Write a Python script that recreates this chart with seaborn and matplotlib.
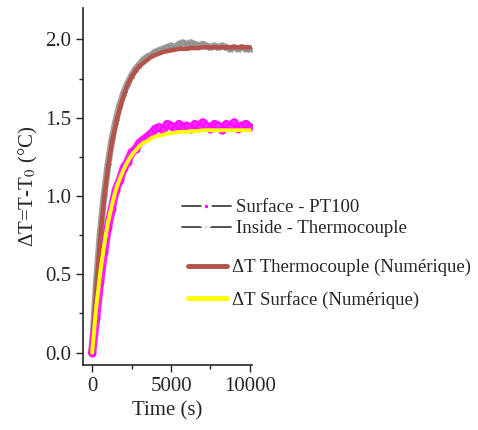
import matplotlib
matplotlib.use("Agg")
import matplotlib.pyplot as plt
from matplotlib.lines import Line2D
import pandas as pd
import seaborn as sns

# time axis (s)
time_s = [0, 250, 500, 750, 1000, 1250, 1500, 1750, 2000, 2250, 2500, 2750, 3000,
          3250, 3500, 3750, 4000, 4250, 4500, 4750, 5000, 5250, 5500, 5750, 6000,
          6250, 6500, 6750, 7000, 7250, 7500, 7750, 8000, 8250, 8500, 8750, 9000,
          9250, 9500, 9750, 10000]

# measured : inside thermocouple
inside_meas = [0.00, 0.42, 0.75, 1.00, 1.20, 1.36, 1.48, 1.58, 1.66, 1.72, 1.77, 1.81, 1.84,
               1.87, 1.89, 1.90, 1.92, 1.93, 1.94, 1.95, 1.96, 1.95, 1.97, 1.98, 1.97,
               1.98, 1.97, 1.96, 1.97, 1.96, 1.95, 1.96, 1.95, 1.96, 1.95, 1.94, 1.95,
               1.94, 1.95, 1.94, 1.94]

# measured : surface PT100
surface_meas = [0.00, 0.22, 0.45, 0.64, 0.80, 0.92, 1.04, 1.10, 1.18, 1.22, 1.28, 1.30, 1.34,
                1.36, 1.38, 1.40, 1.43, 1.44, 1.42, 1.46, 1.45, 1.43, 1.46, 1.44, 1.45,
                1.43, 1.46, 1.44, 1.47, 1.45, 1.43, 1.46, 1.45, 1.42, 1.46, 1.44, 1.47,
                1.43, 1.45, 1.46, 1.44]

# numerical : thermocouple
thermo_num = [0.00, 0.40, 0.72, 0.98, 1.18, 1.34, 1.46, 1.56, 1.64, 1.71, 1.76, 1.80, 1.83,
              1.85, 1.87, 1.89, 1.90, 1.91, 1.92, 1.925, 1.93, 1.935, 1.94, 1.94, 1.94,
              1.945, 1.945, 1.945, 1.95, 1.95, 1.95, 1.95, 1.95, 1.95, 1.95, 1.95, 1.95,
              1.95, 1.95, 1.95, 1.95]

# numerical : surface
surface_num = [0.00, 0.28, 0.50, 0.68, 0.83, 0.94, 1.04, 1.11, 1.17, 1.22, 1.26, 1.29, 1.32,
               1.34, 1.35, 1.37, 1.38, 1.385, 1.39, 1.40, 1.40, 1.405, 1.41, 1.41, 1.41,
               1.415, 1.415, 1.415, 1.42, 1.42, 1.42, 1.42, 1.42, 1.42, 1.42, 1.42, 1.42,
               1.42, 1.42, 1.42, 1.42]

df = pd.DataFrame({"t": time_s, "inside": inside_meas, "surface": surface_meas,
                   "thermo_num": thermo_num, "surface_num": surface_num})

sns.set_style("ticks")
plt.rcParams["font.family"] = ["Liberation Serif", "DejaVu Serif"]
plt.rcParams["mathtext.fontset"] = "stix"

fig = plt.figure(figsize=(4.78, 4.3), dpi=100)
ax = fig.add_axes([0.174, 0.151, 0.353, 0.830])

sns.lineplot(data=df, x="t", y="inside", ax=ax, color="#a0a0a0", lw=5,
             marker="*", markersize=5, markeredgecolor="#909090")
sns.lineplot(data=df, x="t", y="surface", ax=ax, color="#ff22ff", lw=6,
             marker="o", markersize=5, markeredgecolor="#ff00ff")
sns.lineplot(data=df, x="t", y="thermo_num", ax=ax, color="#b5524a", lw=3.2)
sns.lineplot(data=df, x="t", y="surface_num", ax=ax, color="#ffff00", lw=2.8)

ax.set_xlim(-570, 10130)
ax.set_ylim(-0.08, 2.2)
ax.set_xticks([0, 5000, 10000])
ax.set_xticks([2500, 7500], minor=True)
ax.set_yticks([0.0, 0.5, 1.0, 1.5, 2.0])
ax.set_yticks([0.25, 0.75, 1.25, 1.75], minor=True)
ax.tick_params(axis="both", which="major", labelsize=15, length=5, width=1, direction="out")
ax.tick_params(axis="both", which="minor", length=3, width=1, direction="out")
ax.yaxis.set_major_formatter(matplotlib.ticker.FormatStrFormatter("%.1f"))
ax.set_xlabel("Time (s)", fontsize=15, labelpad=4)
ax.set_ylabel(r"ΔT=T-T$_0$ (°C)", fontsize=15, labelpad=4)
for s in ["top", "right"]:
    ax.spines[s].set_visible(False)
for s in ["left", "bottom"]:
    ax.spines[s].set_linewidth(1.2)

# legend, two blocks
h1 = [Line2D([], [], color="#333333", lw=1.2, marker="o", ms=5, mfc="#ff00ff",
             mec="white", mew=2.5),
      Line2D([], [], color="#333333", lw=1.2, marker="*", ms=7, mfc="#dddddd",
             mec="white", mew=1.5)]
leg1 = fig.legend(h1, ["Surface - PT100", "Inside - Thermocouple"], loc="upper left",
                  bbox_to_anchor=(0.381, 0.537), frameon=False, fontsize=13.5,
                  handlelength=2.6, handletextpad=0.25, labelspacing=0.2,
                  borderpad=0, borderaxespad=0)
h2 = [Line2D([], [], color="#b5524a", lw=3.5),
      Line2D([], [], color="#ffff00", lw=3.5)]
leg2 = fig.legend(h2, ["ΔT Thermocouple (Numérique)", "ΔT Surface (Numérique)"],
                  loc="upper left", bbox_to_anchor=(0.393, 0.398), frameon=False,
                  fontsize=13.5, handlelength=2.1, handletextpad=0.25,
                  labelspacing=0.8, borderpad=0, borderaxespad=0)

fig.savefig("out.png", dpi=100)
